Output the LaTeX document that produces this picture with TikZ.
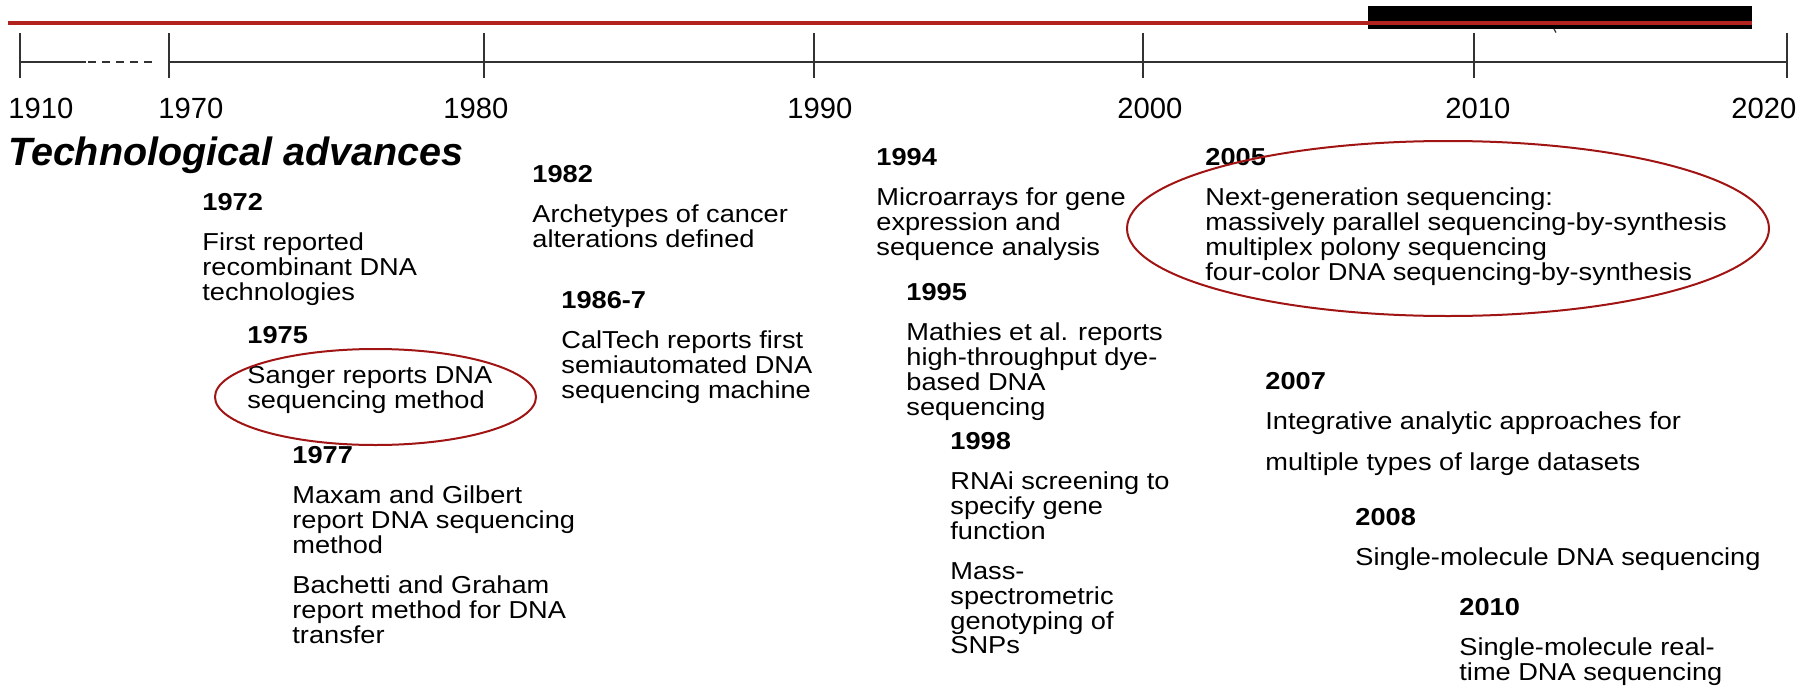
\documentclass[tikz,border=0pt]{standalone}
\usepackage{fontspec}
\setmainfont{Liberation Sans}
\newfontfamily\narrowsf{Liberation Sans}[FakeStretch=1.11]
\usepackage{tikz}
\definecolor{barred}{RGB}{178,34,30}
\definecolor{ringred}{RGB}{160,20,20}
\definecolor{axisgray}{RGB}{50,50,50}
\newcommand{\evlines}[1]{\begin{tabular}[t]{@{}l@{}}#1\end{tabular}}
\tikzset{
	axislbl/.style={font=\fontsize{14.6}{14.6}\selectfont, anchor=base west, inner sep=0pt},
	headlbl/.style={font=\bfseries\itshape\fontsize{19.75}{20}\selectfont, anchor=base west, inner sep=0pt},
	evyear/.style={font=\narrowsf\bfseries\fontsize{12.25}{12.3}\selectfont, anchor=base west, inner sep=0pt},
	evtext/.style={font=\narrowsf\fontsize{12.25}{12.3}\selectfont, anchor=base west, inner sep=0pt},
	ring/.style={ringred, line width=1pt},
}

\begin{document}
\begin{tikzpicture}[x=0.5pt,y=-0.5pt]
	\useasboundingbox (0,0) rectangle (1812,686);
	\def\axy{62}
	\def\tickup{33}
	\def\tickdn{78}
	\def\gap{20pt}
	\def\second{65pt}
	\fill[black] (1368,6) rectangle (1752,29);
	\draw[barred, line width=2pt] (8,22.7) -- (1752,22.7);
	\draw[axisgray, line width=0.6pt] (1554,29) -- (1556,32.5);
	\draw[axisgray, line width=1pt] (20,\axy) -- (86,\axy);
	\draw[axisgray, line width=1pt, dash pattern=on 4pt off 3pt] (88,\axy) -- (156,\axy);
	\draw[axisgray, line width=1pt] (169,\axy) -- (1787,\axy);
	\foreach \tx/\yr/\lx in {20/1910/8, 169/1970/158, 484/1980/443, 814/1990/787, 1143/2000/1117, 1474/2010/1445, 1787/2020/1731}
	{
		\draw[axisgray, line width=0.8pt] (\tx,\tickup) -- (\tx,\tickdn);
		\node[axislbl] (a\yr) at (\lx,118) {\yr};
	}
	\node[headlbl] (tech) at (8,165) {Technological advances};

	\node[evyear] (e1972) at (202,210) {1972};
	\node[evtext] (t1972) at ([yshift=-\gap]e1972.base west) {\evlines{First reported\\recombinant DNA\\technologies}};
	\node[evyear] (e1975) at (247,343) {1975};
	\node[evtext] (t1975) at ([yshift=-\gap]e1975.base west) {\evlines{Sanger reports DNA\\sequencing method}};
	\node[evyear] (e1977) at (292,463) {1977};
	\node[evtext] (t1977) at ([yshift=-\gap]e1977.base west) {\evlines{Maxam and Gilbert\\report DNA sequencing\\method}};
	\node[evtext] (u1977) at ([yshift=-\second]e1977.base west) {\evlines{Bachetti and Graham\\report method for DNA\\transfer}};
	\node[evyear] (e1982) at (532,182) {1982};
	\node[evtext] (t1982) at ([yshift=-\gap]e1982.base west) {\evlines{Archetypes of cancer\\alterations defined}};
	\node[evyear] (e1986) at (561,308) {1986-7};
	\node[evtext] (t1986) at ([yshift=-\gap]e1986.base west) {\evlines{CalTech reports first\\semiautomated DNA\\sequencing machine}};
	\node[evyear] (e1994) at (876,165) {1994};
	\node[evtext] (t1994) at ([yshift=-\gap]e1994.base west) {\evlines{Microarrays for gene\\expression and\\sequence analysis}};
	\node[evyear] (e1995) at (906,300) {1995};
	\node[evtext] (t1995) at ([yshift=-\gap]e1995.base west) {\evlines{Mathies et al. reports\\high-throughput dye-\\based DNA\\sequencing}};
	\node[evyear] (e1998) at (950,449) {1998};
	\node[evtext] (t1998) at ([yshift=-\gap]e1998.base west) {\evlines{RNAi screening to\\specify gene\\function}};
	\node[evtext] (u1998) at ([yshift=-\second]e1998.base west) {\evlines{Mass-\\spectrometric\\genotyping of\\SNPs}};
	\node[evyear] (e2005) at (1205,165) {2005};
	\node[evtext] (t2005) at ([yshift=-\gap]e2005.base west) {\evlines{Next-generation sequencing:\\massively parallel sequencing-by-synthesis\\multiplex polony sequencing\\four-color DNA sequencing-by-synthesis}};
	\node[evyear] (e2007) at (1265,389) {2007};
	\node[evtext] (t2007) at ([yshift=-\gap]e2007.base west) {\evlines{Integrative analytic approaches for\\[8.2pt]multiple types of large datasets}};
	\node[evyear] (e2008) at (1355,525) {2008};
	\node[evtext] (t2008) at ([yshift=-\gap]e2008.base west) {Single-molecule DNA sequencing};
	\node[evyear] (e2010) at (1459,615) {2010};
	\node[evtext] (t2010) at ([yshift=-\gap]e2010.base west) {\evlines{Single-molecule real-\\time DNA sequencing}};

	\draw[ring] (375.5,397) ellipse [x radius=160.5, y radius=48];
	\draw[ring] (1448,228.5) ellipse [x radius=321, y radius=87.5];
\end{tikzpicture}
\end{document}
